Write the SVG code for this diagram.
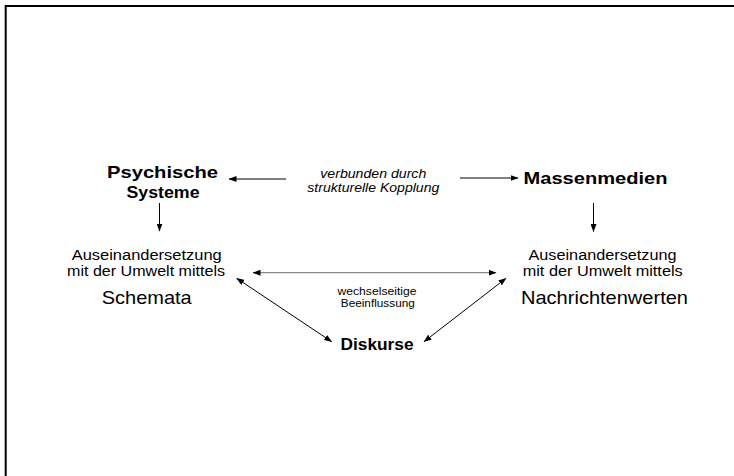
<svg xmlns="http://www.w3.org/2000/svg" width="734" height="476" viewBox="0 0 734 476">
<style>
text{font-family:"Liberation Sans",Arial,sans-serif;fill:#000;text-anchor:middle}
.b{font-weight:bold;font-size:17px}
.d{font-weight:bold;font-size:16.5px}
.i{font-style:italic;font-size:12px}
.n{font-size:14px}
.l{font-size:19px}
.s{font-size:10.5px}
.c{stroke:#000;stroke-width:1;fill:none}
.g{stroke:#888;stroke-width:1.3;fill:none}
</style>
<defs>
<marker id="ah" markerUnits="userSpaceOnUse" markerWidth="8" markerHeight="6" refX="7.5" refY="3" orient="auto-start-reverse" viewBox="0 0 8 6">
<path d="M0,0 L8,3 L0,6 z" fill="#000"/>
</marker>
</defs>
<rect x="5.7" y="6" width="900" height="700" fill="none" stroke="#000" stroke-width="2"/>
<g id="psychische">
<text class="b" x="162.5" y="178" textLength="111" lengthAdjust="spacingAndGlyphs">Psychische</text>
<text class="b" x="163" y="198" textLength="73" lengthAdjust="spacingAndGlyphs">Systeme</text>
</g>
<g id="kopplung">
<text class="i" x="373.3" y="177.5" textLength="106" lengthAdjust="spacingAndGlyphs">verbunden durch</text>
<text class="i" x="373.3" y="191.5" textLength="132" lengthAdjust="spacingAndGlyphs">strukturelle Kopplung</text>
</g>
<g id="massenmedien">
<text class="b" x="595.5" y="183.5" textLength="144" lengthAdjust="spacingAndGlyphs">Massenmedien</text>
</g>
<g id="schemata">
<text class="n" x="146.7" y="260" textLength="150" lengthAdjust="spacingAndGlyphs">Auseinandersetzung</text>
<text class="n" x="146" y="276" textLength="158" lengthAdjust="spacingAndGlyphs">mit der Umwelt mittels</text>
<text class="l" x="146.7" y="304" textLength="90" lengthAdjust="spacingAndGlyphs">Schemata</text>
</g>
<g id="nachrichtenwerten">
<text class="n" x="602.5" y="260" textLength="148" lengthAdjust="spacingAndGlyphs">Auseinandersetzung</text>
<text class="n" x="602.7" y="276" textLength="160" lengthAdjust="spacingAndGlyphs">mit der Umwelt mittels</text>
<text class="l" x="604.5" y="304" textLength="167" lengthAdjust="spacingAndGlyphs">Nachrichtenwerten</text>
</g>
<g id="beeinflussung">
<text class="s" x="377" y="295" textLength="79" lengthAdjust="spacingAndGlyphs">wechselseitige</text>
<text class="s" x="377.8" y="307" textLength="74" lengthAdjust="spacingAndGlyphs">Beeinflussung</text>
</g>
<g id="diskurse">
<text class="d" x="377" y="349.5" textLength="73" lengthAdjust="spacingAndGlyphs">Diskurse</text>
</g>
<g id="connectors">
<line class="c" x1="286" y1="179" x2="229" y2="179" marker-end="url(#ah)"/>
<line class="c" x1="460" y1="178" x2="518" y2="178" marker-end="url(#ah)"/>
<line class="c" x1="159.5" y1="203" x2="159.5" y2="231" marker-end="url(#ah)"/>
<line class="c" x1="593.5" y1="203" x2="593.5" y2="231.5" marker-end="url(#ah)"/>
<line class="g" x1="253" y1="272.7" x2="496" y2="272.7" marker-start="url(#ah)" marker-end="url(#ah)"/>
<line class="c" x1="236.7" y1="278.3" x2="331.7" y2="341.7" marker-start="url(#ah)" marker-end="url(#ah)"/>
<line class="c" x1="506" y1="278.3" x2="424" y2="341.7" marker-start="url(#ah)" marker-end="url(#ah)"/>
</g>
</svg>
